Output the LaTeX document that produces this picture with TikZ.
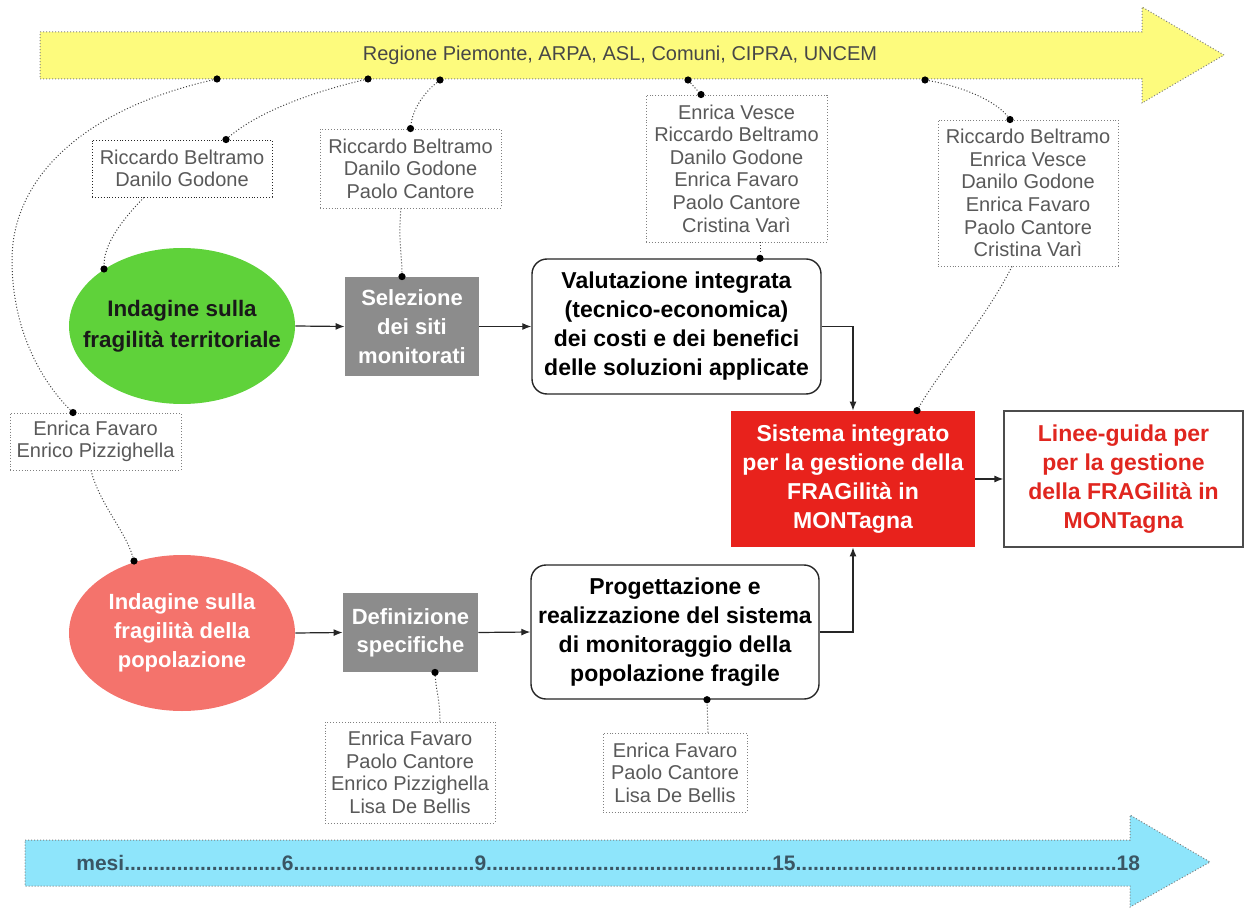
\documentclass[tikz,border=0pt]{standalone}
\usepackage{fontspec}
\setmainfont{Liberation Sans}
\usetikzlibrary{shapes.geometric,arrows.meta}

\definecolor{bandyellow}{RGB}{253,251,125}
\definecolor{bandcyan}{RGB}{142,229,251}
\definecolor{leafgreen}{RGB}{95,210,58}
\definecolor{salmon}{RGB}{244,115,108}
\definecolor{boxgray}{RGB}{140,140,140}
\definecolor{alertred}{RGB}{232,34,28}
\definecolor{guidered}{RGB}{224,38,31}
\definecolor{slate}{RGB}{58,86,100}

\begin{document}
\begin{tikzpicture}[x=0.5pt,y=-0.5pt,
  namebox/.style={draw=black!50, densely dotted, line width=0.45pt, fill=white,
    text=black!65, font=\fontsize{10}{11.3}\selectfont, align=center, inner sep=0pt},
  stage/.style={font=\bfseries\fontsize{11.5}{14.5}\selectfont, align=center, inner sep=0pt},
  roundbox/.style={stage, draw=black!85, line width=0.7pt, rounded corners=7.5pt, fill=white},
  graybox/.style={stage, fill=boxgray, text=white, font=\bfseries\fontsize{11}{14.5}\selectfont},
  blob/.style={ellipse, minimum width=113pt, minimum height=78pt, inner sep=0pt},
  flow/.style={-{Latex[length=4.5pt,width=3.5pt]}, line width=0.6pt, black!85},
  link/.style={densely dotted, black!75, line width=0.5pt},
  joint/.style={circle, fill=black, inner sep=0pt, minimum size=3.6pt}]

\useasboundingbox (0,0) rectangle (1245,908);

% partners band (top) and time band (bottom)
\path[fill=bandyellow, draw=black!50, densely dotted, line width=0.5pt]
  (40,32) -- (1142,32) -- (1142,7) -- (1224,55) -- (1142,103) -- (1142,79) -- (40,79) -- cycle;
\node[font=\fontsize{10}{12}\selectfont, text=black!72] (partners) at (620,55)
  {Regione Piemonte, ARPA, ASL, Comuni, CIPRA, UNCEM};

\path[fill=bandcyan, draw=black!50, densely dotted, line width=0.5pt]
  (25,840) -- (1130,840) -- (1130,815) -- (1210,862) -- (1130,907) -- (1130,886) -- (25,886) -- cycle;
\node[anchor=west, inner sep=0pt, text=slate, font=\bfseries\fontsize{10.5}{12}\selectfont] (months) at (76,863)
  {mesi...........................6...............................9.................................................15.......................................................18};

% territorial branch
\node[blob, fill=leafgreen] (terr) at (182,326) {};
\node[stage, font=\bfseries\fontsize{11.2}{15.5}\selectfont, text=black!90] (terrtext) at (terr) {Indagine sulla\\fragilità territoriale};
\node[graybox, minimum width=67pt, minimum height=49.5pt] (sel) at (412,326.5) {Selezione\\dei siti\\monitorati};
\node[roundbox, minimum width=144.5pt, minimum height=67.5pt] (val) at (676.5,326.5)
  {Valutazione integrata\\(tecnico-economica)\\dei costi e dei benefici\\delle soluzioni applicate};

% population branch
\node[blob, fill=salmon] (pop) at (182,633) {};
\node[stage, font=\bfseries\fontsize{11}{14.5}\selectfont, text=white] (poptext) at (pop) {Indagine sulla\\fragilità della\\popolazione};
\node[graybox, minimum width=67.5pt, minimum height=39.5pt, font=\bfseries\fontsize{11}{14}\selectfont] (def) at (410.5,632.5) {Definizione\\specifiche};
\node[roundbox, minimum width=144pt, minimum height=67pt] (prog) at (675,632)
  {Progettazione e\\realizzazione del sistema\\di monitoraggio della\\popolazione fragile};

% outcomes
\node[stage, fill=alertred, text=white, minimum width=122pt, minimum height=68pt] (sys) at (853,479)
  {Sistema integrato\\per la gestione della\\FRAGilità in\\MONTagna};
\node[stage, draw=black!70, line width=0.6pt, fill=white, text=guidered, minimum width=119.5pt, minimum height=68pt] (guide) at (1123.5,479)
  {Linee-guida per\\per la gestione\\della FRAGilità in\\MONTagna};

% people
\node[namebox, draw=black!85, minimum width=90pt, minimum height=28.5pt] (b1) at (182,168.5) {Riccardo Beltramo\\Danilo Godone};
\node[namebox, minimum width=90.5pt, minimum height=39.5pt] (b2) at (410.5,168.5) {Riccardo Beltramo\\Danilo Godone\\Paolo Cantore};
\node[namebox, minimum width=90.5pt, minimum height=73.5pt] (b3) at (736.5,168.5)
  {Enrica Vesce\\Riccardo Beltramo\\Danilo Godone\\Enrica Favaro\\Paolo Cantore\\Cristina Varì};
\node[namebox, minimum width=90pt, minimum height=73pt] (b4) at (1028,193)
  {Riccardo Beltramo\\Enrica Vesce\\Danilo Godone\\Enrica Favaro\\Paolo Cantore\\Cristina Varì};
\node[namebox, minimum width=85.5pt, minimum height=28.5pt] (b5) at (95.5,441.5) {Enrica Favaro\\Enrico Pizzighella};
\node[namebox, minimum width=85pt, minimum height=50.5pt] (b6) at (410,772.5)
  {Enrica Favaro\\Paolo Cantore\\Enrico Pizzighella\\Lisa De Bellis};
\node[namebox, minimum width=72pt, minimum height=39.5pt] (b7) at (675,772.5)
  {Enrica Favaro\\Paolo Cantore\\Lisa De Bellis};

% flow arrows
\draw[flow] (terr.east) -- (sel.west);
\draw[flow] (sel.east) -- (val.west);
\draw[flow] (val.east) -| (sys.north);
\draw[flow] (pop.east) -- (def.west);
\draw[flow] (def.east) -- (prog.west);
\draw[flow] (prog.east) -| (sys.south);
\draw[flow] (sys.east) -- (guide.west);

% attachment points
\node[joint] (y1) at (217,79) {};
\node[joint] (y2) at (368,79) {};
\node[joint] (y3) at (440,80) {};
\node[joint] (y4) at (688,80) {};
\node[joint] (y5) at (925,80) {};
\node[joint] (b1dot) at ([xshift=22pt]b1.north) {};
\node[joint] (b2dot) at (b2.north) {};
\node[joint] (b3dot) at ([xshift=-17.75pt]b3.north) {};
\node[joint] (b4dot) at ([xshift=-9pt]b4.north) {};
\node[joint] (b5dot) at ([xshift=-11.25pt]b5.north) {};
\node[joint] (terrdot) at (104,269) {};
\node[joint] (popdot) at (134,561) {};
\node[joint] (seldot) at ([xshift=-5pt]sel.north) {};
\node[joint] (valdot) at ([xshift=41.75pt]val.north) {};
\node[joint] (sysdot) at ([xshift=32pt]sys.north) {};
\node[joint] (defdot) at ([xshift=12.25pt]def.south) {};
\node[joint] (progdot) at ([xshift=16pt]prog.south) {};

\coordinate (b1foot) at ([xshift=-19pt]b1.south);
\coordinate (b2foot) at ([xshift=-4.75pt]b2.south);
\coordinate (b3foot) at ([xshift=11.75pt]b3.south);
\coordinate (b4foot) at ([xshift=-8pt]b4.south);
\coordinate (b5foot) at ([xshift=-2.25pt]b5.south);
\coordinate (b6top) at ([xshift=15pt]b6.north);
\coordinate (b7top) at ([xshift=16.5pt]b7.north);
\coordinate (sweep) at (12,260);

% dotted links between people and activities
\draw[link] (y1) .. controls (80,110) and (12,180) .. (sweep) .. controls (12,340) and (50,390) .. (b5dot);
\draw[link] (y2) .. controls (320,90) and (260,110) .. (b1dot);
\draw[link] (y3) .. controls (425,92) and (413,108) .. (b2dot);
\draw[link] (y4) -- (b3dot);
\draw[link] (y5) .. controls (960,86) and (995,100) .. (b4dot);
\draw[link] (b1foot) .. controls (120,222) and (104,245) .. (terrdot);
\draw[link] (b2foot) .. controls (398,240) and (402,255) .. (seldot);
\draw[link] (b3foot) -- (valdot);
\draw[link] (b4foot) .. controls (985,320) and (940,370) .. (sysdot);
\draw[link] (b5foot) .. controls (100,505) and (125,530) .. (popdot);
\draw[link] (b6top) .. controls (440,700) and (436,690) .. (defdot);
\draw[link] (b7top) -- (progdot);

\end{tikzpicture}
\end{document}
